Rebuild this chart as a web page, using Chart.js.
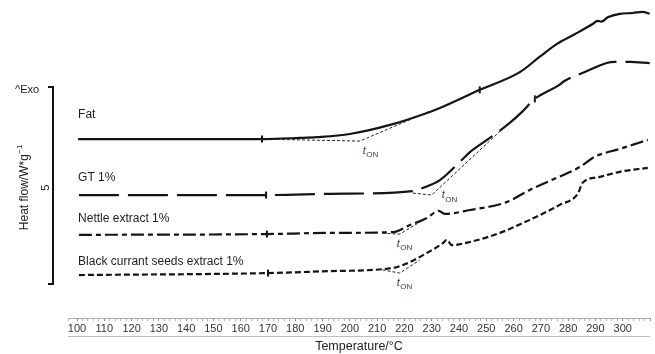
<!DOCTYPE html>
<html>
<head>
<meta charset="utf-8">
<script src="https://cdn.jsdelivr.net/npm/chart.js@4/dist/chart.umd.min.js"></script>
<style>
  html, body { margin: 0; padding: 0; background: #fff; }
</style>
</head>
<body>
<canvas id="dscChart" width="655" height="354"></canvas>
<script>
// series names (drawn as labels next to curves)
const seriesNames = ['Fat', 'GT 1%', 'Nettle extract 1%', 'Black currant seeds extract 1%'];

// temperature (°C) / heat flow (W/g, curves offset as in the figure)
const fatT = [100.4, 167.8, 181.7, 187.9, 200.0, 214.7, 229.3, 233.0, 247.6, 262.3, 269.6, 275.8, 282.4, 289.0, 290.8, 292.2, 294.5, 298.9, 303.7, 307.3, 309.9];
const fatV = [4.54, 4.54, 4.57, 4.59, 4.67, 4.90, 5.23, 5.33, 5.79, 6.24, 6.63, 6.95, 7.20, 7.46, 7.54, 7.52, 7.63, 7.72, 7.74, 7.77, 7.72];

const gtT = [100.7, 169.3, 192.7, 223.1, 226.7, 233.0, 241.0, 244.0, 251.3, 258.6, 263.4, 267.8, 276.2, 278.8, 286.1, 294.1, 297.1, 302.6, 309.9];
const gtV = [3.12, 3.12, 3.15, 3.22, 3.30, 3.50, 4.01, 4.21, 4.57, 4.95, 5.25, 5.56, 5.89, 6.02, 6.24, 6.47, 6.50, 6.50, 6.47];

const nettleT = [100.7, 169.6, 192.7, 215.8, 222.0, 228.2, 232.6, 234.8, 244.0, 257.5, 265.9, 273.3, 284.2, 289.7, 298.9, 309.2];
const nettleV = [2.11, 2.13, 2.16, 2.18, 2.36, 2.54, 2.72, 2.64, 2.74, 2.94, 3.25, 3.48, 3.83, 4.09, 4.29, 4.52];

const currantT = [100.7, 170.0, 192.7, 215.8, 222.0, 228.2, 234.1, 235.5, 237.4, 244.0, 255.0, 265.9, 276.9, 283.5, 285.3, 291.6, 298.9, 309.2];
const currantV = [1.09, 1.14, 1.19, 1.27, 1.42, 1.65, 1.90, 1.98, 1.85, 1.93, 2.16, 2.49, 2.87, 3.15, 3.43, 3.58, 3.71, 3.81];

// onset construction lines (baseline extension + tangent)
const fatTanT = [167.8, 203.7, 229.0];
const fatTanV = [4.54, 4.49, 5.24];
const gtTanT = [223.1, 230.0, 258.6];
const gtTanV = [3.17, 3.12, 4.97];
const nettleTanT = [212.0, 218.3, 227.5];
const nettleTanV = [2.15, 2.13, 2.51];
const currantTanT = [212.0, 218.3, 225.6];
const currantTanV = [1.22, 1.14, 1.47];

// small vertical marks on the curves
const markT = [167.8, 247.6, 169.3, 267.8, 169.6, 170.0];
const markV = [4.54, 5.79, 3.12, 5.56, 2.13, 1.14];

// scale bar = 5 W/g
const scaleBar = [0.86, 5.86];

// x tick labels
const tickLabels = [100, 110, 120, 130, 140, 150, 160, 170, 180, 190, 200, 210, 220, 230, 240, 250, 260, 270, 280, 290, 300];

const pts = (t, v) => t.map((x, i) => ({ x: x, y: v[i] }));

const ink = '#141414';
const tonColor = '#2b3f66';
const font = '"Liberation Sans", Arial, sans-serif';

// label anchors in data units
const nameAnchors = [
    { x: 100.4, y: 5.15 },
    { x: 100.4, y: 3.55 },
    { x: 100.4, y: 2.51 },
    { x: 100.4, y: 1.42 }
];
const tonAnchors = [
    { x: 204.7, y: 4.25 },
    { x: 233.7, y: 3.12 },
    { x: 217.2, y: 1.89 },
    { x: 217.2, y: 0.90 }
];

const decor = {
    id: 'decor',
    afterDraw(chart) {
        const c = chart.ctx;
        const xs = chart.scales.x, ys = chart.scales.y;
        c.save();

        // rule below the tick labels
        c.strokeStyle = '#bdbdbd';
        c.lineWidth = 1;
        c.beginPath();
        c.moveTo(xs.left, xs.top + 18.5);
        c.lineTo(xs.right, xs.top + 18.5);
        c.stroke();

        // scale bar bracket
        const yTop = ys.getPixelForValue(scaleBar[1]);
        const yBot = ys.getPixelForValue(scaleBar[0]);
        c.strokeStyle = ink;
        c.lineWidth = 2;
        c.beginPath();
        c.moveTo(48, yTop);
        c.lineTo(53, yTop);
        c.lineTo(53, yBot);
        c.lineTo(48, yBot);
        c.stroke();

        c.fillStyle = '#222';
        c.font = '11px ' + font;
        c.textBaseline = 'middle';
        c.textAlign = 'left';
        c.fillText('^Exo', 15, yTop + 3);

        // y title (rotated)
        c.save();
        c.translate(25, (yTop + yBot) / 2 + 2);
        c.rotate(-Math.PI / 2);
        c.font = '12px ' + font;
        const main = 'Heat flow/W*g';
        const wMain = c.measureText(main).width;
        c.font = '8px ' + font;
        const wSup = c.measureText('\u22121').width;
        const x0 = -(wMain + wSup) / 2;
        c.font = '12px ' + font;
        c.fillText(main, x0, 0);
        c.font = '8px ' + font;
        c.fillText('\u22121', x0 + wMain + 0.5, -5);
        c.restore();

        c.save();
        c.translate(46, (yTop + yBot) / 2 + 2);
        c.rotate(-Math.PI / 2);
        c.font = '11px ' + font;
        c.textAlign = 'center';
        c.fillText('5', 0, 0);
        c.restore();

        // curve names
        c.font = '12px ' + font;
        c.fillStyle = '#1e1e1e';
        seriesNames.forEach((name, i) => {
            c.fillText(name, xs.getPixelForValue(nameAnchors[i].x), ys.getPixelForValue(nameAnchors[i].y));
        });

        // t_ON labels
        c.fillStyle = tonColor;
        tonAnchors.forEach(a => {
            const px = xs.getPixelForValue(a.x), py = ys.getPixelForValue(a.y);
            c.font = 'italic 11px ' + font;
            c.fillText('t', px, py);
            c.font = '8px ' + font;
            c.fillText('ON', px + 3.5, py + 4.5);
        });

        c.restore();
    }
};

const curve = (data, dash) => ({
    data: data,
    borderColor: ink,
    borderWidth: 2.2,
    borderDash: dash,
    pointRadius: 0,
    cubicInterpolationMode: 'monotone',
    fill: false
});
const tangent = (data) => ({
    data: data,
    borderColor: '#222',
    borderWidth: 1,
    borderDash: [3, 2],
    pointRadius: 0,
    tension: 0,
    fill: false
});

new Chart(document.getElementById('dscChart').getContext('2d'), {
    type: 'line',
    data: {
        datasets: [
            tangent(pts(fatTanT, fatTanV)),
            tangent(pts(gtTanT, gtTanV)),
            tangent(pts(nettleTanT, nettleTanV)),
            tangent(pts(currantTanT, currantTanV)),
            curve(pts(fatT, fatV), []),
            curve(pts(gtT, gtV), [40, 9]),
            curve(pts(nettleT, nettleV), [13, 4, 5, 4]),
            curve(pts(currantT, currantV), [6, 3]),
            {
                type: 'scatter',
                data: pts(markT, markV),
                pointStyle: 'line',
                rotation: 90,
                pointRadius: 3.5,
                borderColor: ink,
                borderWidth: 2,
                showLine: false
            }
        ]
    },
    options: {
        responsive: false,
        animation: false,
        layout: { autoPadding: false, padding: { left: 68, right: 5, top: 0, bottom: 0 } },
        plugins: { legend: { display: false }, tooltip: { enabled: false } },
        scales: {
            x: {
                type: 'linear',
                min: 96.7,
                max: 310,
                afterFit: (s) => { s.height = 36; },
                grid: {
                    drawOnChartArea: false,
                    drawTicks: true,
                    tickLength: 3,
                    color: (ctx) => (ctx.tick && ctx.tick.value % 10 === 0 ? '#888' : '#b5b5b5')
                },
                border: { display: true, color: '#b0b0b0', width: 1 },
                ticks: {
                    stepSize: 2,
                    autoSkip: false,
                    maxRotation: 0,
                    padding: 1,
                    color: '#333',
                    font: { family: font, size: 11 },
                    callback: (v) => (tickLabels.includes(v) ? String(v) : '')
                },
                title: {
                    display: true,
                    text: 'Temperature/°C',
                    color: '#222',
                    font: { family: font, size: 12.5 },
                    padding: { top: 0, bottom: 0 }
                }
            },
            y: {
                display: false,
                min: 0,
                max: 8.07
            }
        }
    },
    plugins: [decor]
});
</script>
</body>
</html>
